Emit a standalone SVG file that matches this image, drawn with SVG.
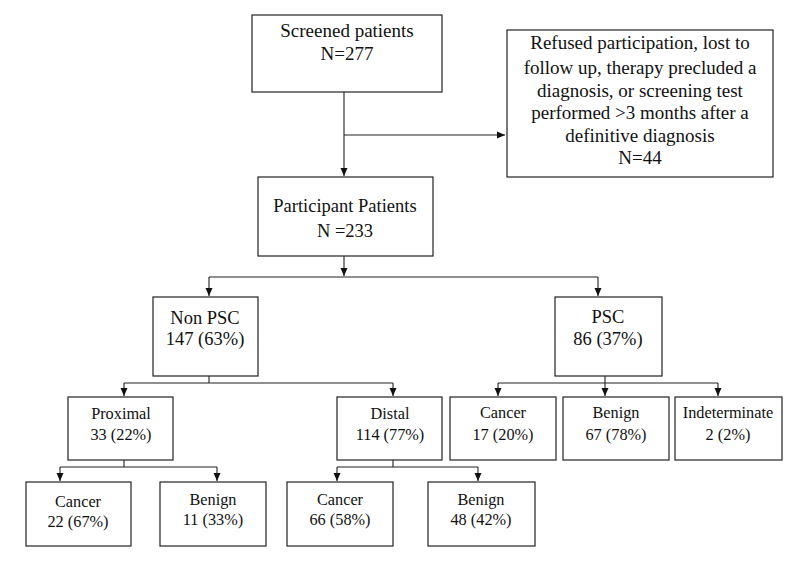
<svg xmlns="http://www.w3.org/2000/svg" width="800" height="564" viewBox="0 0 800 564">
<defs>
<marker id="ah" markerUnits="userSpaceOnUse" markerWidth="8" markerHeight="8" viewBox="0 0 8 8" refX="8" refY="4" orient="auto">
<path d="M0,0.5 L8,4 L0,7.5 Z" fill="#111"/>
</marker>
</defs>
<rect width="800" height="564" fill="#fff"/>
<g id="connectors" fill="none" stroke="#222" stroke-width="1.1">
<path d="M344,92 V176" marker-end="url(#ah)"/>
<path d="M344,135 H505" marker-end="url(#ah)"/>
<path d="M344,256 V276"  marker-end="url(#ah)"/>
<path d="M209,277 H598"/>
<path d="M209,277 V296" marker-end="url(#ah)"/>
<path d="M598,277 V296" marker-end="url(#ah)"/>
<path d="M209,376 V383 M124,383 H393"/>
<path d="M124,383 V396" marker-end="url(#ah)"/>
<path d="M393,383 V396" marker-end="url(#ah)"/>
<path d="M605,376 V383 M498,383 H718"/>
<path d="M498,383 V396" marker-end="url(#ah)"/>
<path d="M605,383 V396" marker-end="url(#ah)"/>
<path d="M718,383 V396" marker-end="url(#ah)"/>
<path d="M124,460 V467 M60,467 H217"/>
<path d="M60,467 V481" marker-end="url(#ah)"/>
<path d="M217,467 V481" marker-end="url(#ah)"/>
<path d="M393,460 V467 M337,467 H478"/>
<path d="M337,467 V481" marker-end="url(#ah)"/>
<path d="M478,467 V481" marker-end="url(#ah)"/>
</g>
<g id="nodes" font-family="Liberation Serif" font-size="16.3" text-anchor="middle">
<g id="boxes" fill="#fff" stroke="#222" stroke-width="1.2">
<rect x="252" y="15" width="190" height="77"/>
<rect x="507" y="30" width="266" height="147"/>
<rect x="258" y="177" width="175" height="79"/>
<rect x="153" y="297" width="105" height="79"/>
<rect x="555" y="297" width="107" height="79"/>
<rect x="68" y="397" width="105" height="63"/>
<rect x="337" y="397" width="105" height="63"/>
<rect x="450" y="397" width="106" height="63"/>
<rect x="563" y="397" width="106" height="63"/>
<rect x="675" y="397" width="107" height="63"/>
<rect x="26" y="482" width="105" height="64"/>
<rect x="160" y="482" width="106" height="64"/>
<rect x="287" y="482" width="106" height="64"/>
<rect x="428" y="482" width="107" height="64"/>
</g>
<g fill="#111">
<g id="screened" font-size="19">
<text x="347" y="37">Screened patients</text>
<text x="347" y="60">N=277</text>
</g>
<g id="excluded" font-size="19">
<text x="640" y="49">Refused participation, lost to</text>
<text x="640" y="74">follow up, therapy precluded a</text>
<text x="640" y="97">diagnosis, or screening test</text>
<text x="640" y="119">performed &gt;3 months after a</text>
<text x="640" y="142">definitive diagnosis</text>
<text x="640" y="164">N=44</text>
</g>
<g id="participants" font-size="18.5">
<text x="345" y="212">Participant Patients</text>
<text x="345" y="237">N =233</text>
</g>
<g id="nonpsc" font-size="18.5">
<text x="205" y="324">Non PSC</text>
<text x="205" y="345">147 (63%)</text>
</g>
<g id="psc" font-size="18.5">
<text x="608" y="323">PSC</text>
<text x="608" y="345">86 (37%)</text>
</g>
<g id="proximal">
<text x="121" y="419">Proximal</text>
<text x="121" y="440">33 (22%)</text>
</g>
<g id="distal">
<text x="390" y="419">Distal</text>
<text x="390" y="440">114 (77%)</text>
</g>
<g id="psc-cancer">
<text x="503" y="418">Cancer</text>
<text x="503" y="440">17 (20%)</text>
</g>
<g id="psc-benign">
<text x="616" y="418">Benign</text>
<text x="616" y="440">67 (78%)</text>
</g>
<g id="psc-indeterminate">
<text x="728" y="418">Indeterminate</text>
<text x="728" y="440">2 (2%)</text>
</g>
<g id="prox-cancer">
<text x="78" y="507">Cancer</text>
<text x="78" y="527">22 (67%)</text>
</g>
<g id="prox-benign">
<text x="213" y="505">Benign</text>
<text x="213" y="525">11 (33%)</text>
</g>
<g id="dist-cancer">
<text x="340" y="505">Cancer</text>
<text x="340" y="525">66 (58%)</text>
</g>
<g id="dist-benign">
<text x="481" y="505">Benign</text>
<text x="481" y="525">48 (42%)</text>
</g>
</g>
</g>
</svg>
